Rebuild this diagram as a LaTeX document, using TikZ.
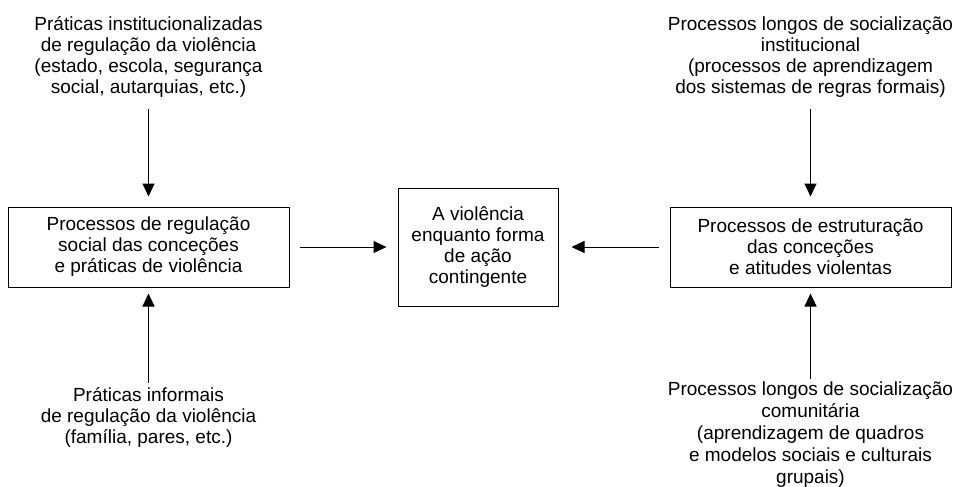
\documentclass[tikz,border=0pt]{standalone}
\usepackage{fontspec}
\setmainfont{Liberation Sans}
\usetikzlibrary{arrows.meta}

\begin{document}
\begin{tikzpicture}[x=0.75pt,y=-0.75pt,
    every node/.style={font=\fontsize{14.25}{15.75}\selectfont, align=center, inner sep=0pt},
    caixa/.style={draw, line width=0.75pt, minimum height=60pt},
    seta/.style={line width=0.75pt, -{Triangle[length=9.75pt,width=9pt]}}]
            {
    \def\colL{148.5}
    \def\colM{478}
    \def\colR{810.5}

    \def\rowT{57}
    \def\rowM{247}
    \def\rowBL{417}
    \def\rowBR{435}

    \useasboundingbox (0,0) rectangle (955,486);

    \node[caixa, minimum width=210.75pt] (regulacao) at (\colL,\rowM)
        {Processos de regulação\\social das conceções\\e práticas de violência};
    \node[caixa, minimum width=120pt, minimum height=88.5pt] (violencia) at (\colM,\rowM)
        {A violência\\enquanto forma\\de ação\\contingente};
    \node[caixa, minimum width=210.75pt] (estruturacao) at (\colR,\rowM)
        {Processos de estruturação\\das conceções\\e atitudes violentas};

    \node (institucionais) at (\colL,\rowT)
        {Práticas institucionalizadas\\de regulação da violência\\(estado, escola, segurança\\social, autarquias, etc.)};
    \node (informais) at (\colL,\rowBL)
        {Práticas informais\\de regulação da violência\\(família, pares, etc.)};
    \node (socinst) at (\colR,\rowT)
        {Processos longos de socialização\\institucional\\(processos de aprendizagem\\dos sistemas de regras formais)};
    \node[font=\fontsize{14.25}{16.5}\selectfont] (soccom) at (\colR,\rowBR)
        {Processos longos de socialização\\comunitária\\(aprendizagem de quadros\\e modelos sociais e culturais\\grupais)};

    \draw[seta, shorten <=8.75pt, shorten >=7.5pt] (institucionais) -- (regulacao);
    \draw[seta, shorten <=2.5pt, shorten >=4.5pt] (informais) -- (regulacao);
    \draw[seta, shorten <=8.75pt, shorten >=7.5pt] (socinst) -- (estruturacao);
    \draw[seta, shorten <=2.5pt, shorten >=4.5pt] (soccom) -- (estruturacao);

    \draw[seta, shorten <=7.5pt, shorten >=8.25pt] (regulacao) -- (violencia);
    \draw[seta, shorten <=8.25pt, shorten >=9.75pt] (estruturacao) -- (violencia);
}
\end{tikzpicture}
\end{document}
